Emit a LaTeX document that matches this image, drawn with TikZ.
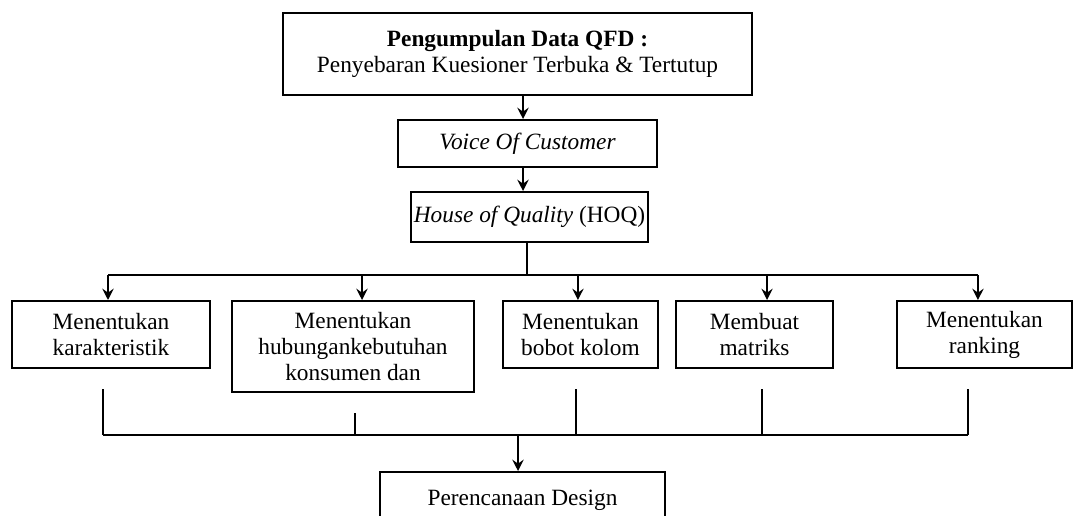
\documentclass[tikz,border=0pt]{standalone}
\usepackage{fontspec}
\setmainfont{Liberation Serif}
\usepackage{tikz}
\usetikzlibrary{arrows.meta, calc}

\begin{document}
\begin{tikzpicture}[
    x=0.75pt, y=-0.75pt,
    every node/.style={font=\fontsize{17.5}{19.5}\selectfont},
    box/.style={
        rectangle, draw=black, line width=1.5pt, align=center, inner sep=2pt
    },
    wire/.style={line width=0.8pt},
    arrow/.style={-{Stealth[length=8.5pt, width=8.5pt, inset=3pt]}, line width=1.2pt}
]
\useasboundingbox (0,0) rectangle (1084,516);

% --- Top: data collection, voice of customer, HOQ ----------------------------
\node[box, minimum width=351.75pt, minimum height=61.5pt] (survey) at (517.5,54) {
    \textbf{Pengumpulan Data QFD :}\\
    Penyebaran Kuesioner Terbuka \& Tertutup
};
\node[box, minimum width=194.25pt, minimum height=35.25pt] (voc) at (527.5,143.5) {\textit{Voice Of Customer}};
\node[box, minimum width=174.75pt, minimum height=37.5pt] (hoq) at (529.5,217) {\textit{House of Quality} (HOQ)};

% --- Middle: the five HOQ steps ---------------------------------------------
\node[box, minimum width=148.5pt, minimum height=50.25pt] (karakteristik) at (111,334.5) {Menentukan\\karakteristik};
\node[box, minimum width=181.5pt, minimum height=68.25pt] (hubungan) at (353,346.5) {Menentukan\\hubungankebutuhan\\konsumen dan};
\node[box, minimum width=116.25pt, minimum height=50.25pt] (bobot) at (580.5,334.5) {Menentukan\\bobot kolom};
\node[box, minimum width=117.75pt, minimum height=50.25pt] (matriks) at (754.5,334.5) {Membuat\\matriks};
\node[box, minimum width=131.25pt, minimum height=50.25pt] (ranking) at (984.5,334.5) {Menentukan\\ranking};

% --- Bottom: design planning ------------------------------------------------
\node[box, minimum width=213.75pt, minimum height=42pt] (design) at (522.5,500) {Perencanaan Design};

% --- Connectors -------------------------------------------------------------
\coordinate (spine) at (523,0);
\coordinate (split) at (527,275);
\coordinate (merge) at (518,435);

\draw[arrow] (survey.south -| spine) -- (voc.north -| spine);
\draw[arrow] (voc.south -| spine) -- (hoq.north -| spine);

% fan out from HOQ to the steps
\draw[wire] (hoq.south -| split) -- (split);
\draw[wire] ([xshift=-2.25pt]karakteristik.north |- split) -- ([xshift=-4.9pt]ranking.north |- split);
\foreach \n/\dx in {karakteristik/-2.25, hubungan/6.75, bobot/-1.9, matriks/9.4, ranking/-4.9}
    \draw[arrow] ([xshift=\dx pt]\n.north |- split) -- ([xshift=\dx pt]\n.north);

% gather the steps into the design box
\foreach \n/\dx in {karakteristik/-6, hubungan/1.5, bobot/-3.4, matriks/5.6, ranking/-12.4}
    \draw[wire] ([shift={(\dx pt,-15pt)}]\n.south) -- ([xshift=\dx pt]\n.south |- merge);
\draw[wire] ([xshift=-6pt]karakteristik.south |- merge) -- ([xshift=-12.4pt]ranking.south |- merge);
\draw[arrow] (merge) -- (design.north -| merge);

\end{tikzpicture}
\end{document}
